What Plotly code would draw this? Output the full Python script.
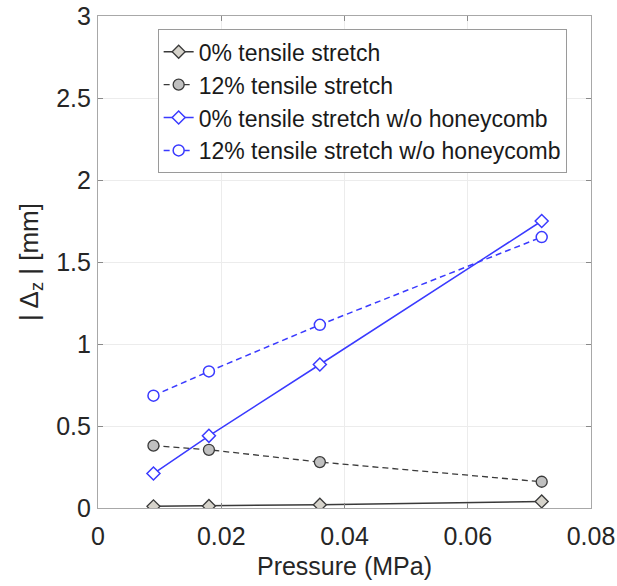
import plotly.graph_objects as go

pressure = [0.009, 0.018, 0.036, 0.072]
dz_0 = [0.01, 0.012, 0.02, 0.04]
dz_12 = [0.38, 0.355, 0.28, 0.16]
dz_0_nohc = [0.21, 0.44, 0.875, 1.75]
dz_12_nohc = [0.685, 0.833, 1.117, 1.652]

names = ["0% tensile stretch", "12% tensile stretch",
         "0% tensile stretch w/o honeycomb", "12% tensile stretch w/o honeycomb"]

x_ticks = [0, 0.02, 0.04, 0.06, 0.08]
x_ticktext = ["0", "0.02", "0.04", "0.06", "0.08"]
y_ticks = [0, 0.5, 1, 1.5, 2, 2.5, 3]
y_ticktext = ["0", "0.5", "1", "1.5", "2", "2.5", "3"]

grey_line = "#3a3a3a"
blue = "#3a3aff"
font = "Liberation Sans, Arial, sans-serif"

fig = go.Figure()
fig.add_trace(go.Scatter(
    x=pressure, y=dz_0, name=names[0], mode="lines+markers",
    line=dict(color=grey_line, width=1.5),
    marker=dict(symbol="diamond", size=10, color="#d6d3cb",
                line=dict(color=grey_line, width=1.3))))
fig.add_trace(go.Scatter(
    x=pressure, y=dz_12, name=names[1], mode="lines+markers",
    line=dict(color=grey_line, width=1.3, dash="6px,4px"),
    marker=dict(symbol="circle", size=11, color="#c0c0c0",
                line=dict(color=grey_line, width=1.3))))
fig.add_trace(go.Scatter(
    x=pressure, y=dz_0_nohc, name=names[2], mode="lines+markers",
    line=dict(color=blue, width=1.5),
    marker=dict(symbol="diamond", size=10, color="white",
                line=dict(color=blue, width=1.5))))
fig.add_trace(go.Scatter(
    x=pressure, y=dz_12_nohc, name=names[3], mode="lines+markers",
    line=dict(color=blue, width=1.5, dash="6px,4px"),
    marker=dict(symbol="circle", size=11, color="white",
                line=dict(color=blue, width=1.5))))

axis_common = dict(
    showline=True, linecolor="#a8a8a8", linewidth=1.2, mirror="ticks",
    ticks="inside", ticklen=5, tickcolor="#8a8a8a",
    showgrid=True, gridcolor="#ececec", gridwidth=1,
    zeroline=False, tickfont=dict(size=25, color="#262626", family=font),
)

fig.update_xaxes(
    range=[0, 0.08], tickvals=x_ticks, ticktext=x_ticktext,
    ticklabelstandoff=6,
    title=dict(text="Pressure (MPa)", font=dict(size=25, color="#262626", family=font), standoff=8),
    **axis_common)
fig.update_yaxes(
    range=[0, 3], tickvals=y_ticks, ticktext=y_ticktext,
    ticklabelstandoff=1,
    title=dict(text="| Δ<sub>z</sub> | [mm]", font=dict(size=26, color="#262626", family=font), standoff=10),
    **axis_common)

fig.update_layout(
    width=617, height=586,
    margin=dict(l=98, r=26, t=16, b=78, autoexpand=False),
    paper_bgcolor="white", plot_bgcolor="white",
    font=dict(family=font, color="#262626"),
    legend=dict(
        x=0.121, y=0.973, xanchor="left", yanchor="top",
        bgcolor="white", bordercolor="#9a9a9a", borderwidth=1,
        font=dict(size=23, color="#1a1a1a", family=font),
        tracegroupgap=0, itemwidth=30,
    ),
)

fig.write_html("out.html")
